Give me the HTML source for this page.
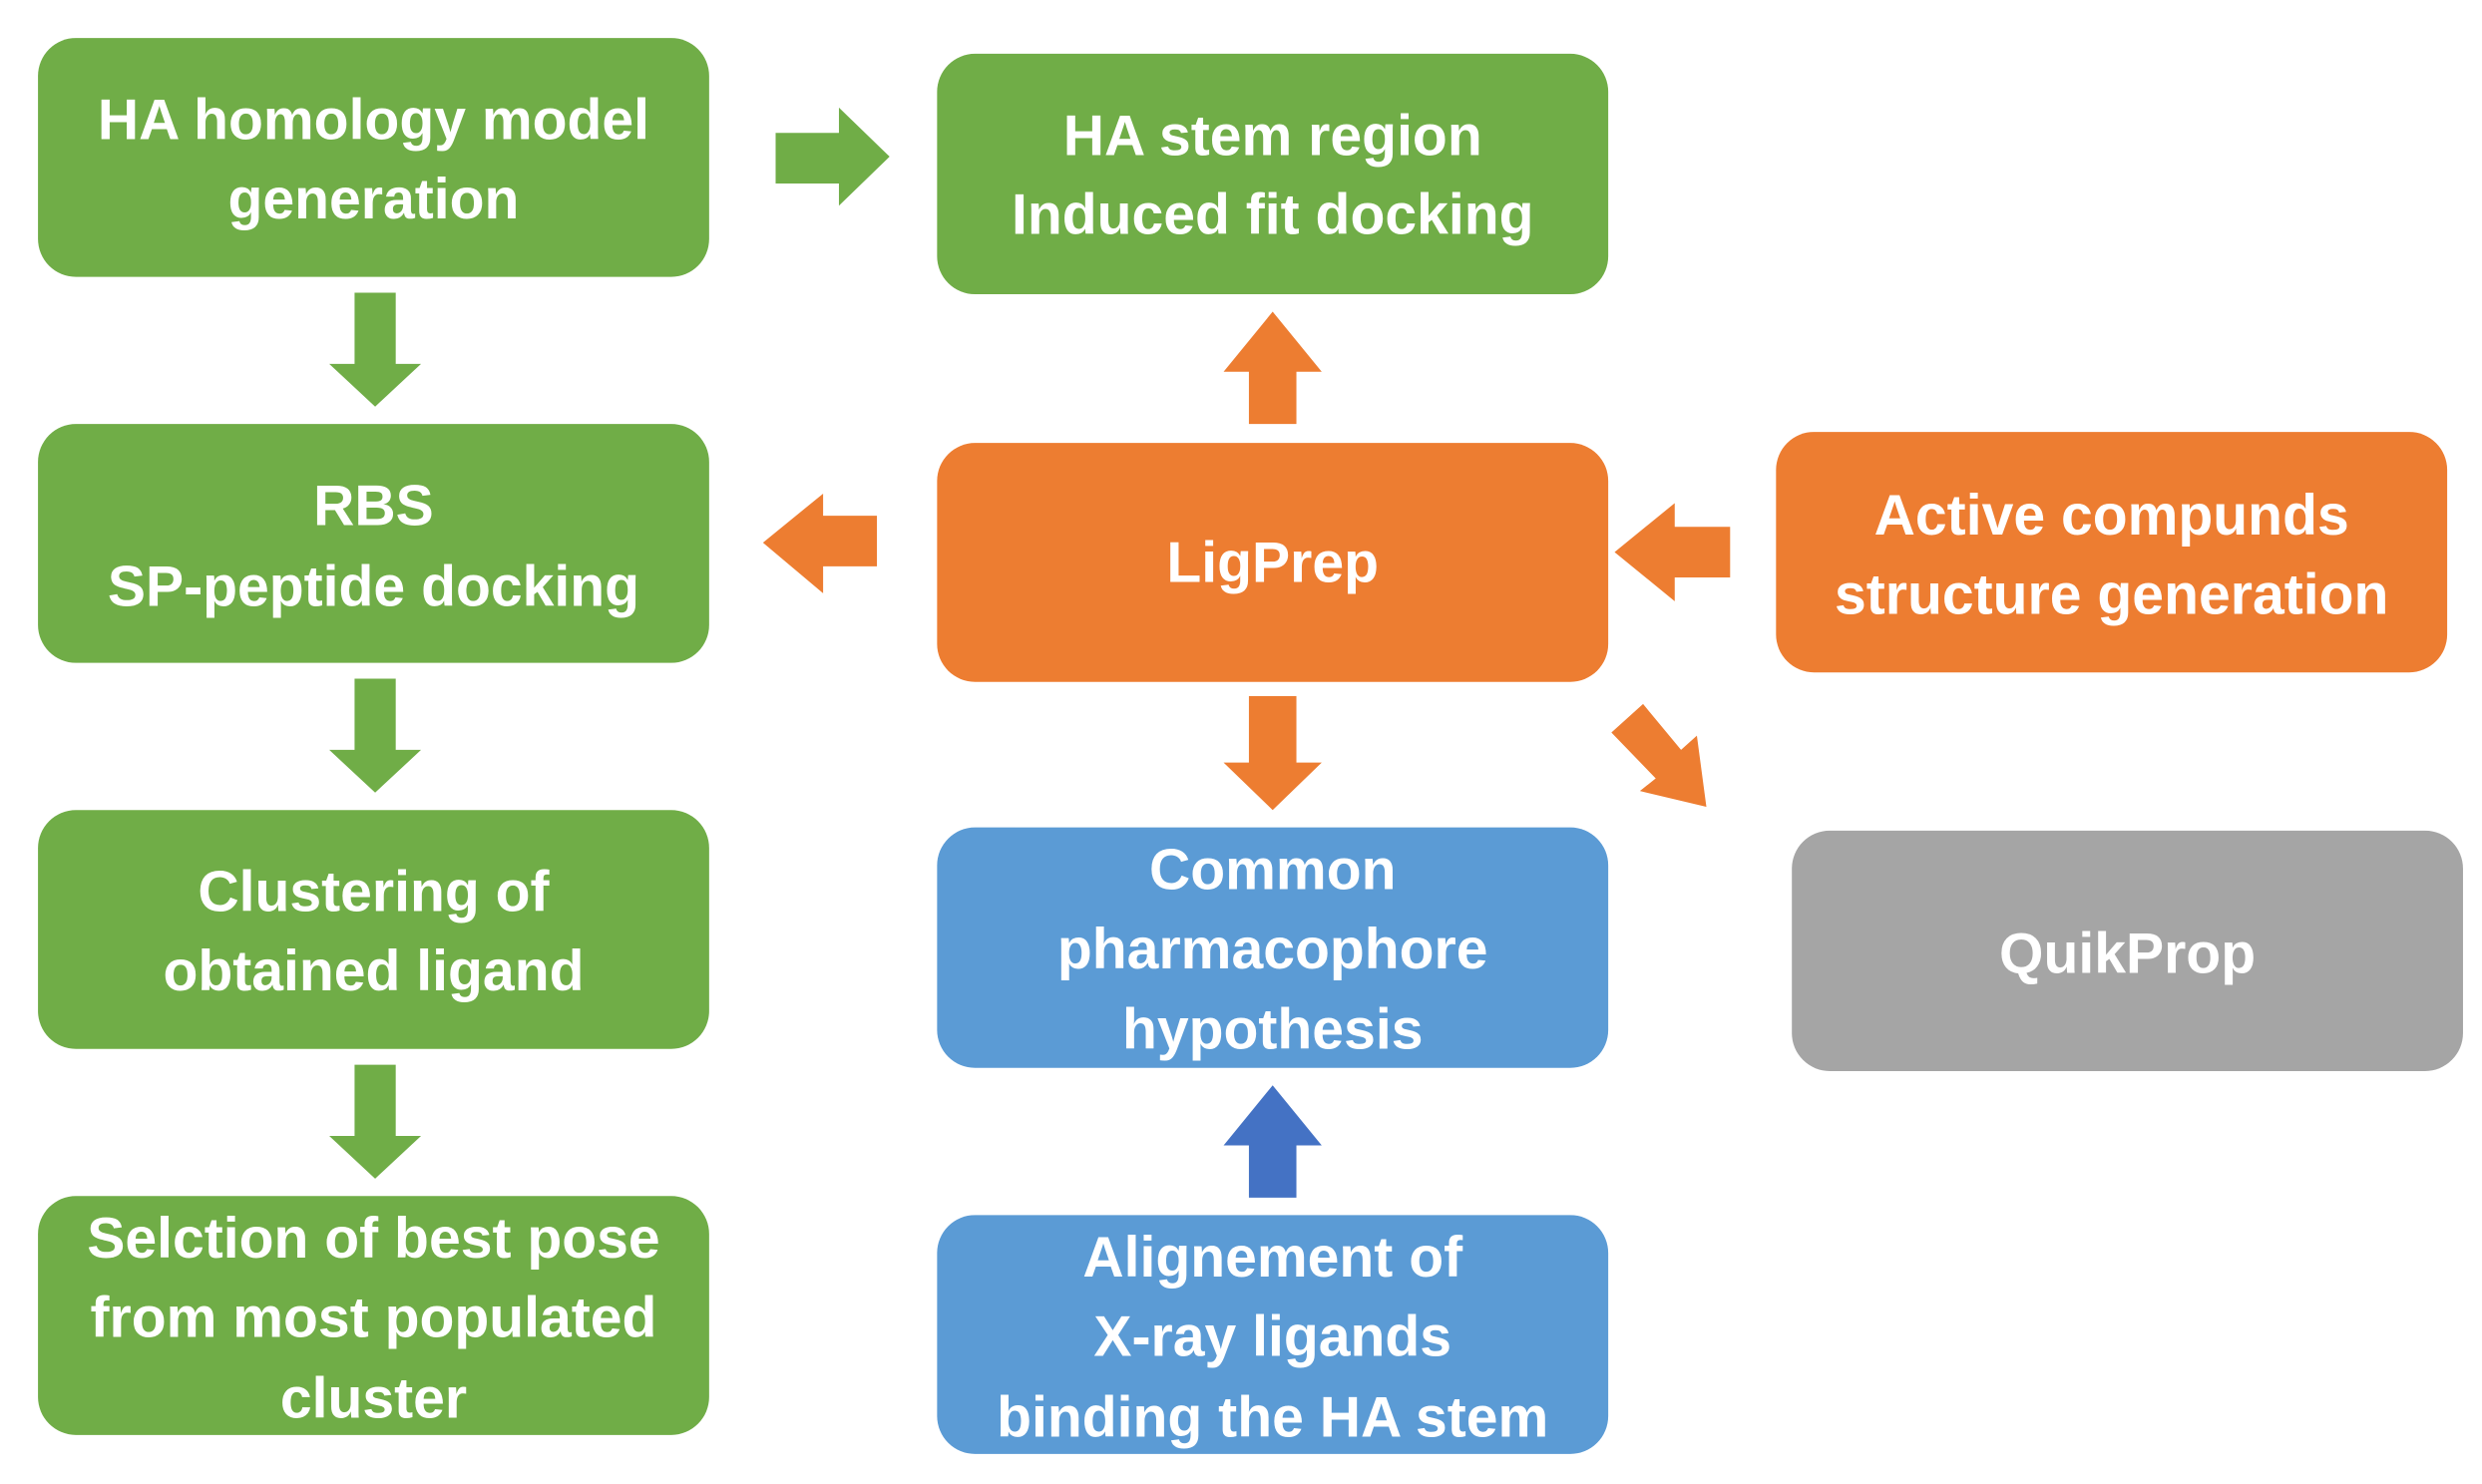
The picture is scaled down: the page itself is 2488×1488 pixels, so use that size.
<!DOCTYPE html>
<html><head><meta charset="utf-8"><style>html,body{margin:0;padding:0;background:#fff}svg{display:block}</style></head>
<body>
<svg width="2488" height="1488" viewBox="0 0 1568 938" preserveAspectRatio="none" xmlns="http://www.w3.org/2000/svg">
<g font-family="Liberation Sans, sans-serif" font-weight="bold" font-size="36" fill="#fff" text-anchor="middle" dominant-baseline="central">
<rect x="24" y="24" width="424" height="151" rx="24" fill="#70AD47"/>
<rect x="592" y="34" width="424" height="152" rx="24" fill="#70AD47"/>
<rect x="24" y="268" width="424" height="151" rx="24" fill="#70AD47"/>
<rect x="24" y="512" width="424" height="151" rx="24" fill="#70AD47"/>
<rect x="24" y="756" width="424" height="151" rx="24" fill="#70AD47"/>
<rect x="592" y="280" width="424" height="151" rx="24" fill="#ED7D31"/>
<rect x="1122" y="273" width="424" height="152" rx="24" fill="#ED7D31"/>
<rect x="592" y="523" width="424" height="152" rx="24" fill="#5B9BD5"/>
<rect x="1132" y="525" width="424" height="152" rx="24" fill="#A5A5A5"/>
<rect x="592" y="768" width="424" height="151" rx="24" fill="#5B9BD5"/>
<polygon points="490,84 530,84 530,68 562,99 530,130 530,116 490,116" fill="#70AD47"/>
<polygon points="224,185 250,185 250,230 266,230 237,257 208,230 224,230" fill="#70AD47"/>
<polygon points="224,429 250,429 250,474 266,474 237,501 208,474 224,474" fill="#70AD47"/>
<polygon points="224,673 250,673 250,718 266,718 237,745 208,718 224,718" fill="#70AD47"/>
<polygon points="789,268 819,268 819,235 835,235 804,197 773,235 789,235" fill="#ED7D31"/>
<polygon points="554,326 554,358 520,358 520,375 482,343 520,312 520,326" fill="#ED7D31"/>
<polygon points="1093,333 1093,365 1058,365 1058,380 1020,349 1058,318 1058,333" fill="#ED7D31"/>
<polygon points="789,440 819,440 819,482 835,482 804,512 773,482 789,482" fill="#ED7D31"/>
<polygon points="1018,463 1038,445 1062,474 1072,465 1078,510 1036,500 1046,492" fill="#ED7D31"/>
<polygon points="789,757 819,757 819,724 835,724 804,686 773,724 789,724" fill="#4472C4"/>
<text x="236" y="76">HA homology model</text>
<text x="236" y="126">generation</text>
<text x="804" y="86">HA stem region</text>
<text x="804" y="136">Induced fit docking</text>
<text x="236" y="320">RBS</text>
<text x="236" y="371">SP-peptide docking</text>
<text x="236" y="564">Clustering of</text>
<text x="236" y="614">obtained ligand</text>
<text x="236" y="783">Selction of best pose</text>
<text x="236" y="833">from most populated</text>
<text x="236" y="884">cluster</text>
<text x="804" y="356">LigPrep</text>
<text x="1334" y="326">Active compunds</text>
<text x="1334" y="376">structure generation</text>
<text x="804" y="550">Common</text>
<text x="804" y="600">pharmacophore</text>
<text x="804" y="651">hypothesis</text>
<text x="1344" y="603">QuikProp</text>
<text x="804" y="795">Alignement of</text>
<text x="804" y="845">X-ray ligands</text>
<text x="804" y="896">binding the HA stem</text>
</g>
</svg>
</body></html>
